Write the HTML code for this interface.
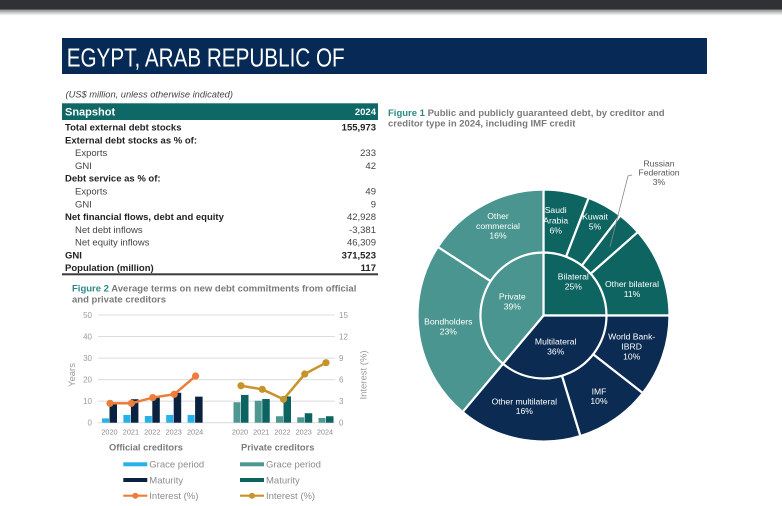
<!DOCTYPE html>
<html>
<head>
<meta charset="utf-8">
<style>
html,body{margin:0;padding:0;background:#fff;}
body{width:782px;height:506px;overflow:hidden;}
svg{display:block;font-family:"Liberation Sans",Arial,sans-serif;}
</style>
</head>
<body>
<svg width="782" height="506" viewBox="0 0 782 506" xmlns="http://www.w3.org/2000/svg">
<defs>
<linearGradient id="sh" x1="0" y1="0" x2="0" y2="1">
<stop offset="0" stop-color="#8a8a8a"/>
<stop offset="1" stop-color="#ffffff"/>
</linearGradient>
</defs>
<rect x="0" y="0" width="782" height="506" fill="#ffffff"/>
<!-- top bar -->
<rect x="0" y="0" width="782" height="9.5" fill="#303134"/>
<rect x="0" y="9.5" width="782" height="6" fill="url(#sh)"/>

<!-- title -->
<rect x="62" y="38" width="645" height="36" fill="#062a55"/>
<text x="66.7" y="66.7" font-size="25.5" fill="#ffffff" textLength="278" lengthAdjust="spacingAndGlyphs">EGYPT, ARAB REPUBLIC OF</text>

<!-- snapshot table -->
<text x="65.5" y="97.3" font-size="9.3" font-style="italic" fill="#444">(US$ million, unless otherwise indicated)</text>
<rect x="62" y="103.3" width="316" height="16.7" fill="#0e6866"/>
<text x="65" y="115.6" font-size="11" font-weight="bold" fill="#ffffff">Snapshot</text>
<text x="376" y="115.2" font-size="9.5" font-weight="bold" fill="#ffffff" text-anchor="end">2024</text>

<g font-size="9.5" fill="#222">
<text x="65" y="130.7" font-weight="bold">Total external debt stocks</text>
<text x="376" y="130.7" font-weight="bold" text-anchor="end">155,973</text>
<text x="65" y="143.5" font-weight="bold">External debt stocks as % of:</text>
<text x="75" y="156.2" fill="#444">Exports</text>
<text x="376" y="156.2" fill="#444" text-anchor="end">233</text>
<text x="75" y="169" fill="#444">GNI</text>
<text x="376" y="169" fill="#444" text-anchor="end">42</text>
<text x="65" y="181.7" font-weight="bold">Debt service as % of:</text>
<text x="75" y="194.5" fill="#444">Exports</text>
<text x="376" y="194.5" fill="#444" text-anchor="end">49</text>
<text x="75" y="207.3" fill="#444">GNI</text>
<text x="376" y="207.3" fill="#444" text-anchor="end">9</text>
<text x="65" y="220" font-weight="bold">Net financial flows, debt and equity</text>
<text x="376" y="220" fill="#444" text-anchor="end">42,928</text>
<text x="75" y="232.8" fill="#444">Net debt inflows</text>
<text x="376" y="232.8" fill="#444" text-anchor="end">-3,381</text>
<text x="75" y="245.5" fill="#444">Net equity inflows</text>
<text x="376" y="245.5" fill="#444" text-anchor="end">46,309</text>
<text x="65" y="258.3" font-weight="bold">GNI</text>
<text x="376" y="258.3" font-weight="bold" text-anchor="end">371,523</text>
<text x="65" y="271" font-weight="bold">Population (million)</text>
<text x="376" y="271" font-weight="bold" text-anchor="end">117</text>
</g>
<rect x="62" y="273.3" width="316" height="2" fill="#3a3a3a"/>

<!-- Figure 2 title -->
<text x="72" y="291.7" font-size="9.5" font-weight="bold" fill="#7a7a7a"><tspan fill="#2a8a86">Figure 2</tspan> Average terms on new debt commitments from official</text>
<text x="72" y="302.4" font-size="9.5" font-weight="bold" fill="#7a7a7a">and private creditors</text>

<!-- gridlines -->
<g stroke="#dcdcdc" stroke-width="1">
<line x1="98" y1="315" x2="335" y2="315"/>
<line x1="98" y1="336.54" x2="335" y2="336.54"/>
<line x1="98" y1="358.08" x2="335" y2="358.08"/>
<line x1="98" y1="379.62" x2="335" y2="379.62"/>
<line x1="98" y1="401.16" x2="335" y2="401.16"/>
<line x1="98" y1="422.7" x2="335" y2="422.7"/>
</g>
<g font-size="8" fill="#9a9a9a" text-anchor="end">
<text x="92" y="317.8">50</text>
<text x="92" y="339.3">40</text>
<text x="92" y="360.9">30</text>
<text x="92" y="382.4">20</text>
<text x="92" y="404">10</text>
<text x="92" y="425.5">0</text>
</g>
<g font-size="8" fill="#9a9a9a">
<text x="339" y="317.8">15</text>
<text x="339" y="339.3">12</text>
<text x="339" y="360.9">9</text>
<text x="339" y="382.4">6</text>
<text x="339" y="404">3</text>
<text x="339" y="425.5">0</text>
</g>
<text transform="translate(75,375) rotate(-90)" font-size="9.5" fill="#9a9a9a" text-anchor="middle">Years</text>
<text transform="translate(366.5,375) rotate(-90)" font-size="9.5" fill="#9a9a9a" text-anchor="middle">Interest (%)</text>

<!-- official bars -->
<g fill="#27b1e6">
<rect x="102" y="418.39" width="7" height="4.31"/>
<rect x="123.4" y="414.95" width="7" height="7.75"/>
<rect x="144.8" y="416.02" width="7" height="6.68"/>
<rect x="166.2" y="414.95" width="7" height="7.75"/>
<rect x="187.6" y="414.95" width="7" height="7.75"/>
</g>
<g fill="#0a2240">
<rect x="109.5" y="403.31" width="7.5" height="19.39"/>
<rect x="130.9" y="399.22" width="7.5" height="23.48"/>
<rect x="152.3" y="396.64" width="7.5" height="26.06"/>
<rect x="173.7" y="392.76" width="7.5" height="29.94"/>
<rect x="195.1" y="396.64" width="7.5" height="26.06"/>
</g>
<!-- private bars -->
<g fill="#4f9892">
<rect x="233.5" y="402.24" width="7" height="20.46"/>
<rect x="254.75" y="400.73" width="7" height="21.97"/>
<rect x="276" y="416.24" width="7" height="6.46"/>
<rect x="297.25" y="417.31" width="7" height="5.39"/>
<rect x="318.5" y="417.96" width="7" height="4.74"/>
</g>
<g fill="#0b6461">
<rect x="241" y="394.91" width="7.5" height="27.79"/>
<rect x="262.25" y="399.01" width="7.5" height="23.69"/>
<rect x="283.5" y="396.42" width="7.5" height="26.28"/>
<rect x="304.75" y="413.22" width="7.5" height="9.48"/>
<rect x="326" y="416.24" width="7.5" height="6.46"/>
</g>
<!-- interest lines -->
<polyline points="110,403.31 131.4,403.31 152.8,397.57 174.2,394.27 195.6,376.03" fill="none" stroke="#ec7d3a" stroke-width="2.5" stroke-linejoin="round"/>
<g fill="#ec7d3a">
<circle cx="110" cy="403.31" r="3.6"/>
<circle cx="131.4" cy="403.31" r="3.6"/>
<circle cx="152.8" cy="397.57" r="3.6"/>
<circle cx="174.2" cy="394.27" r="3.6"/>
<circle cx="195.6" cy="376.03" r="3.6"/>
</g>
<polyline points="241,385.72 262.25,389.31 283.5,399.29 304.75,374.02 326,362.67" fill="none" stroke="#c8932c" stroke-width="2.5" stroke-linejoin="round"/>
<g fill="#c8932c">
<circle cx="241" cy="385.72" r="3.6"/>
<circle cx="262.25" cy="389.31" r="3.6"/>
<circle cx="283.5" cy="399.29" r="3.6"/>
<circle cx="304.75" cy="374.02" r="3.6"/>
<circle cx="326" cy="362.67" r="3.6"/>
</g>
<!-- year labels -->
<g font-size="7.3" fill="#8a8a8a" text-anchor="middle">
<text x="109.5" y="434.6">2020</text>
<text x="130.9" y="434.6">2021</text>
<text x="152.3" y="434.6">2022</text>
<text x="173.7" y="434.6">2023</text>
<text x="195.1" y="434.6">2024</text>
<text x="240" y="434.6">2020</text>
<text x="261.25" y="434.6">2021</text>
<text x="282.5" y="434.6">2022</text>
<text x="303.75" y="434.6">2023</text>
<text x="325" y="434.6">2024</text>
</g>

<!-- legend -->
<text x="109" y="450.6" font-size="9.3" font-weight="bold" fill="#7a7a7a">Official creditors</text>
<text x="241" y="450.6" font-size="9.3" font-weight="bold" fill="#7a7a7a">Private creditors</text>
<rect x="123.3" y="462.3" width="24" height="4" fill="#27b1e6"/>
<rect x="123.3" y="478" width="24" height="4" fill="#0a2240"/>
<line x1="123.3" y1="495.7" x2="147.3" y2="495.7" stroke="#ec7d3a" stroke-width="2.2"/>
<circle cx="135.3" cy="495.7" r="3" fill="#ec7d3a"/>
<rect x="240" y="462.3" width="24" height="4" fill="#4f9892"/>
<rect x="240" y="478" width="24" height="4" fill="#0b6461"/>
<line x1="240" y1="495.7" x2="264" y2="495.7" stroke="#c8932c" stroke-width="2.2"/>
<circle cx="252" cy="495.7" r="3" fill="#c8932c"/>
<g font-size="9.5" fill="#8c8c8c">
<text x="149.3" y="467.7">Grace period</text>
<text x="149.3" y="483.4">Maturity</text>
<text x="149.3" y="499.1">Interest (%)</text>
<text x="266" y="467.7">Grace period</text>
<text x="266" y="483.4">Maturity</text>
<text x="266" y="499.1">Interest (%)</text>
</g>

<!-- Figure 1 title -->
<text x="388" y="116" font-size="9.5" font-weight="bold" fill="#7a7a7a"><tspan fill="#2a8a86">Figure 1</tspan> Public and publicly guaranteed debt, by creditor and</text>
<text x="388" y="126.7" font-size="9.5" font-weight="bold" fill="#7a7a7a">creditor type in 2024, including IMF credit</text>

<!-- donut outer -->
<g stroke="#ffffff" stroke-width="2.2" stroke-linejoin="round">
<path d="M543.5,315.5 L543.5,189.5 A126,126 0 0 1 588.65,197.87 Z" fill="#0e6461"/>
<path d="M543.5,315.5 L588.65,197.87 A126,126 0 0 1 620.21,215.53 Z" fill="#0e6461"/>
<path d="M543.5,315.5 L620.21,215.53 A126,126 0 0 1 637.87,232.01 Z" fill="#0e6461"/>
<path d="M543.5,315.5 L637.87,232.01 A126,126 0 0 1 669.5,315.5 Z" fill="#0e6461"/>
<path d="M543.5,315.5 L669.5,315.5 A126,126 0 0 1 642.79,393.08 Z" fill="#0b2b52"/>
<path d="M543.5,315.5 L642.79,393.08 A126,126 0 0 1 580.34,436 Z" fill="#0b2b52"/>
<path d="M543.5,315.5 L580.34,436 A126,126 0 0 1 462.51,412.02 Z" fill="#0b2b52"/>
<path d="M543.5,315.5 L462.51,412.02 A126,126 0 0 1 437.83,246.88 Z" fill="#4b9590"/>
<path d="M543.5,315.5 L437.83,246.88 A126,126 0 0 1 543.5,189.5 Z" fill="#4b9590"/>
<!-- inner -->
<path d="M543.5,315.5 L543.5,252.5 A63,63 0 0 1 606.5,315.5 Z" fill="#0e6461"/>
<path d="M543.5,315.5 L606.5,315.5 A63,63 0 0 1 503,363.76 Z" fill="#0b2b52"/>
<path d="M543.5,315.5 L503,363.76 A63,63 0 0 1 543.5,252.5 Z" fill="#4b9590"/>
</g>

<!-- donut labels -->
<g font-size="8.6" fill="#ffffff" text-anchor="middle">
<text x="498" y="219">Other</text>
<text x="498" y="229">commercial</text>
<text x="498" y="238.5">16%</text>
<text x="555.7" y="213">Saudi</text>
<text x="555.7" y="223.5">Arabia</text>
<text x="555.7" y="233.5">6%</text>
<text x="595" y="219.5">Kuwait</text>
<text x="595" y="229.5">5%</text>
<text x="573.3" y="279.7">Bilateral</text>
<text x="573.3" y="289.7">25%</text>
<text x="632" y="287">Other bilateral</text>
<text x="632" y="297">11%</text>
<text x="512.3" y="299.7">Private</text>
<text x="512.3" y="309.7">39%</text>
<text x="448.3" y="324.7">Bondholders</text>
<text x="448.3" y="334.7">23%</text>
<text x="555.7" y="344.7">Multilateral</text>
<text x="555.7" y="354.7">36%</text>
<text x="631.7" y="339.7">World Bank-</text>
<text x="631.7" y="349.7">IBRD</text>
<text x="631.7" y="359.7">10%</text>
<text x="599" y="394.7">IMF</text>
<text x="599" y="404">10%</text>
<text x="524.3" y="404.7">Other multilateral</text>
<text x="524.3" y="414">16%</text>
</g>
<g font-size="8.6" fill="#555" text-anchor="middle">
<text x="659" y="166.3">Russian</text>
<text x="659" y="175.7">Federation</text>
<text x="659" y="185">3%</text>
</g>
<polyline points="632,175 628,176 610,246.7" fill="none" stroke="#8a8a8a" stroke-width="0.8"/>
</svg>
</body>
</html>
